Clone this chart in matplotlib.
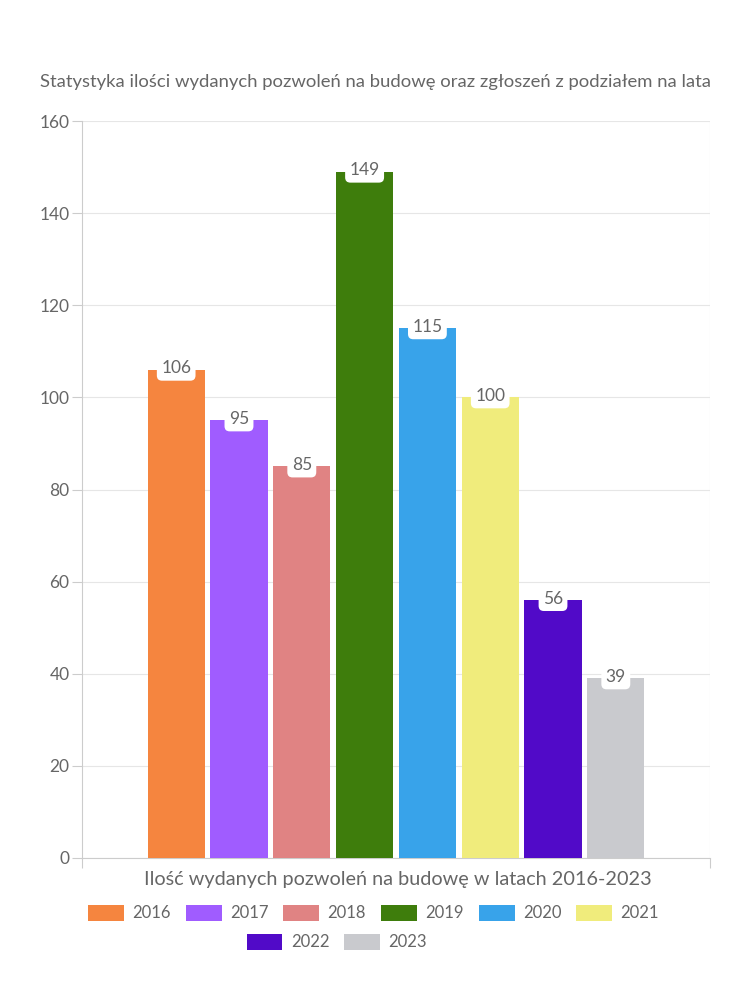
import numpy as np
import matplotlib.pyplot as plt
from matplotlib.patches import Patch

years = ['2016', '2017', '2018', '2019', '2020', '2021', '2022', '2023']
values = [106, 95, 85, 149, 115, 100, 56, 39]
colors = ['#F5853F', '#A05CFF', '#E08383', '#3E7D0C',
          '#38A3EA', '#F0EC7C', '#510AC8', '#C9CACE']
yticks = [0, 20, 40, 60, 80, 100, 120, 140, 160]

title = 'Statystyka ilości wydanych pozwoleń na budowę oraz zgłoszeń z podziałem na lata'
xlabel = 'Ilość wydanych pozwoleń na budowę w latach 2016-2023'

txt = '#666666'
plt.rcParams['font.family'] = ['Lato', 'DejaVu Sans']

fig = plt.figure(figsize=(7.5, 10), dpi=100)
ax = fig.add_axes([0.1093, 0.142, 0.8374, 0.737])

step = 0.1
width = 0.091
n = len(values)
xs = (np.arange(n) - (n - 1) / 2) * step

ax.bar(xs, values, width=width, color=colors, zorder=3)

for x, v in zip(xs, values):
    ax.text(x, v + 0.3, str(v), ha='center', va='center', fontsize=12.5,
            color=txt, zorder=5,
            bbox=dict(boxstyle='round,pad=0.25,rounding_size=0.3',
                      fc='white', ec='none'))

ax.set_xlim(-0.5, 0.5)
ax.set_ylim(0, 160)
ax.set_yticks(yticks)
ax.set_xticks([-0.5, 0.5])
ax.set_xticklabels(['', ''])
ax.grid(axis='y', color='#e6e6e6', linewidth=0.8, zorder=0)
ax.axvline(0.5, color='#e6e6e6', linewidth=0.8, zorder=0)

for s in ['top', 'right']:
    ax.spines[s].set_visible(False)
for s in ['left', 'bottom']:
    ax.spines[s].set_color('#cccccc')
    ax.spines[s].set_linewidth(0.8)

ax.tick_params(axis='y', colors='#cccccc', labelcolor=txt, labelsize=12.5,
               length=7, width=0.8, pad=2)
ax.tick_params(axis='x', colors='#cccccc', length=7, width=0.8)

fig.text(0.5, 0.918, title, ha='center', va='center', fontsize=13.3, color=txt)
fig.text(0.53, 0.12, xlabel, ha='center', va='center', fontsize=14.3, color=txt)

# two legend rows, drawn as two legends
handles = [Patch(facecolor=c, edgecolor='none') for c in colors]
leg_kw = dict(frameon=False, fontsize=12, handlelength=2.15, handleheight=1.1,
              handletextpad=0.5, columnspacing=0.9, labelcolor=txt,
              borderaxespad=0, borderpad=0)
fig.legend(handles[:6], years[:6], loc='center', ncol=6,
           bbox_to_anchor=(0.498, 0.087), **leg_kw)
fig.legend(handles[6:], years[6:], loc='center', ncol=2,
           bbox_to_anchor=(0.449, 0.058), **leg_kw)

fig.savefig('out.png', dpi=100, facecolor='white')
